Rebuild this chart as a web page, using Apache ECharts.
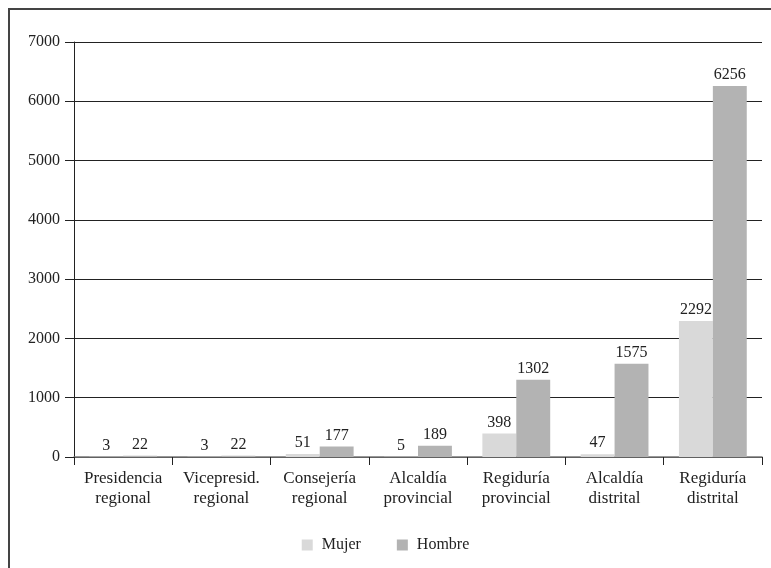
<!DOCTYPE html>
<html><head><meta charset="utf-8">
<script src="https://cdn.jsdelivr.net/npm/echarts@6/dist/echarts.min.js"></script>
<style>
html,body{margin:0;padding:0;width:771px;height:568px;overflow:hidden;background:#fff;}
#frame{position:absolute;left:8px;top:8px;width:800px;height:600px;border:2px solid #444;box-sizing:border-box;}
#chart{position:absolute;left:0;top:0;width:771px;height:568px;}
</style></head>
<body>
<div id="frame"></div>
<div id="chart"></div>
<script>
const categories = ["Presidencia\nregional","Vicepresid.\nregional","Consejería\nregional","Alcaldía\nprovincial","Regiduría\nprovincial","Alcaldía\ndistrital","Regiduría\ndistrital"];
const mujer = [3,3,51,5,398,47,2292];
const hombre = [22,22,177,189,1302,1575,6256];
const seriesNames = ["Mujer","Hombre"];
const font = "'Liberation Serif', serif";
const chart = echarts.init(document.getElementById('chart'));
const lbl = {show:true,position:'top',color:'#222',fontFamily:font,fontSize:16,distance:3};
chart.setOption({
  animation:false,
  textStyle:{fontFamily:font},
  grid:{left:74,right:9,top:42,bottom:111},
  legend:{bottom:10,left:'center',itemWidth:11,itemHeight:11,itemGap:36,icon:'rect',
    textStyle:{fontFamily:font,fontSize:16,color:'#222',padding:[0,0,0,4]}},
  xAxis:{type:'category',data:categories,
    axisLine:{lineStyle:{color:'#777',width:1.5}},
    axisTick:{show:true,interval:0,length:8,lineStyle:{color:'#222'}},
    axisLabel:{interval:0,fontFamily:font,fontSize:17,color:'#222',lineHeight:20,margin:12}},
  yAxis:{type:'value',min:0,max:7000,interval:1000,
    axisLine:{show:true,lineStyle:{color:'#222'}},
    axisTick:{show:true,length:9,lineStyle:{color:'#222'}},
    axisLabel:{fontFamily:font,fontSize:16,color:'#222',margin:14,formatter:v=>String(v)},
    splitLine:{lineStyle:{color:'#222',width:1}}},
  series:[
    {name:seriesNames[0],type:'bar',data:mujer,barGap:0,barCategoryGap:'31%',itemStyle:{color:'#d9d9d9'},label:lbl},
    {name:seriesNames[1],type:'bar',data:hombre,barGap:0,barCategoryGap:'31%',itemStyle:{color:'#b3b3b3'},label:lbl}
  ]
});
</script>
</body></html>
